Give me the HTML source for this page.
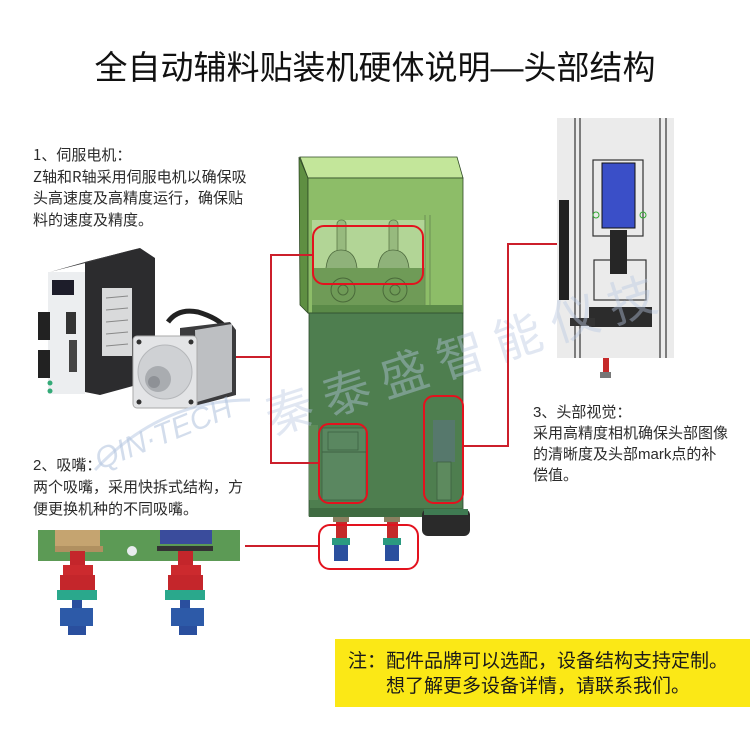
<!DOCTYPE html>
<html><head><meta charset="utf-8">
<style>
html,body{margin:0;padding:0;background:#fff;}
body{width:750px;height:756px;position:relative;overflow:hidden;font-family:"Liberation Sans","Noto Sans CJK SC",sans-serif;}
.t{position:absolute;color:#2b2b2b;font-size:15px;white-space:nowrap;}
#title{position:absolute;left:0;top:47px;width:750px;text-align:center;font-size:33px;line-height:42px;color:#111;white-space:nowrap;}
#note{position:absolute;left:335px;top:639px;width:415px;height:68px;background:#fbe816;}
#note div{position:absolute;left:13px;font-size:19px;line-height:25px;color:#1a1a1a;white-space:nowrap;}
svg{position:absolute;left:0;top:0;}
</style></head><body>
<svg width="750" height="756" viewBox="0 0 750 756">
  <!-- servo drive -->
  <polygon points="85,262 140,248 155,258 155,380 100,395 85,392" fill="#2c2c2e"/>
  <polygon points="50,272 85,262 140,248 105,258" fill="#3a3a3c"/>
  <rect x="48" y="272" width="37" height="122" fill="#eceef0"/>
  <rect x="52" y="280" width="22" height="15" fill="#1d1d2a"/>
  <rect x="38" y="312" width="12" height="28" fill="#222"/>
  <rect x="38" y="350" width="12" height="28" fill="#222"/>
  <rect x="66" y="312" width="10" height="22" fill="#333"/>
  <rect x="69" y="340" width="8" height="32" fill="#444"/>
  <circle cx="50" cy="383" r="2.5" fill="#3a7"/><circle cx="50" cy="391" r="2.5" fill="#3a7"/>
  <rect x="102" y="288" width="30" height="68" fill="#d9dadb"/>
  <g stroke="#888" stroke-width="1"><line x1="106" y1="298" x2="128" y2="296"/><line x1="106" y1="310" x2="128" y2="308"/><line x1="106" y1="322" x2="128" y2="320"/><line x1="106" y1="334" x2="128" y2="332"/><line x1="106" y1="346" x2="128" y2="344"/></g>
  <!-- motor -->
  <path d="M168,322 q10,-14 30,-10 q20,6 28,16" fill="none" stroke="#222" stroke-width="5"/>
  <polygon points="180,328 230,322 236,330 236,395 195,406 180,400" fill="#3b3b3d"/>
  <polygon points="195,330 232,324 232,392 197,402" fill="#bdbfc2"/>
  <rect x="133" y="336" width="64" height="72" rx="4" fill="#e3e4e6" stroke="#aaa"/>
  <circle cx="165" cy="372" r="27" fill="#cfd1d4" stroke="#b5b7ba"/>
  <circle cx="158" cy="379" r="13" fill="#a9acb0"/>
  <circle cx="154" cy="382" r="6" fill="#8e9196"/>
  <circle cx="139" cy="342" r="2.5" fill="#333"/><circle cx="191" cy="342" r="2.5" fill="#333"/><circle cx="139" cy="402" r="2.5" fill="#333"/><circle cx="191" cy="402" r="2.5" fill="#333"/>

  <!-- watermark logo -->
  <path d="M95,470 Q160,400 250,400" fill="none" stroke="#c9d6ea" stroke-width="3" opacity="0.7"/>
  <text x="100" y="470" transform="rotate(-22 100 470)" font-family="Liberation Sans, sans-serif" font-style="italic" font-size="30" fill="#b6c7e0" opacity="0.6">QIN·TECH</text>

  <!-- machine upper box -->
  <polygon points="299,157 308,178 308,313 300,305" fill="#5f8f42" stroke="#2f4a25" stroke-width="0.8"/>
  <polygon points="300,157 457,157 463,178 308,178" fill="#c3e69a" stroke="#2f4a25" stroke-width="0.8"/>
  <rect x="308" y="178" width="155" height="135" fill="#8dbd68" stroke="#2f4a25" stroke-width="0.8"/>
  <rect x="312" y="220" width="113" height="48" fill="#b2d596"/>
  <rect x="312" y="268" width="113" height="38" fill="#6f9b57"/>
  <rect x="337" y="220" width="9" height="36" rx="4" fill="#97ba7e" stroke="#5c7a48" stroke-width="0.8"/>
  <rect x="389" y="220" width="9" height="36" rx="4" fill="#97ba7e" stroke="#5c7a48" stroke-width="0.8"/>
  <path d="M326,268 q2,-18 15,-18 q14,0 16,18" fill="#8fb27a" stroke="#4e6a3e" stroke-width="0.8"/>
  <path d="M378,268 q2,-18 15,-18 q14,0 16,18" fill="#8fb27a" stroke="#4e6a3e" stroke-width="0.8"/>
  <circle cx="343" cy="290" r="12" fill="none" stroke="#4a6a3a"/><circle cx="343" cy="290" r="5" fill="none" stroke="#4a6a3a"/>
  <circle cx="395" cy="290" r="12" fill="none" stroke="#4a6a3a"/><circle cx="395" cy="290" r="5" fill="none" stroke="#4a6a3a"/>
  <rect x="312" y="305" width="151" height="8" fill="#5a8a48"/>
  <line x1="425" y1="215" x2="425" y2="305" stroke="#6a8f55"/>
  <line x1="430" y1="215" x2="430" y2="305" stroke="#6a8f55"/>
  <!-- machine lower box -->
  <rect x="309" y="313" width="154" height="203" fill="#4e7e4f" stroke="#2c4a2c" stroke-width="0.8"/>
  <rect x="309" y="425" width="9" height="75" fill="#5d8c58"/>
  <rect x="322" y="428" width="44" height="72" fill="#5a8760" stroke="#3e6242" stroke-width="0.8"/>
  <line x1="322" y1="452" x2="366" y2="452" stroke="#3e6242"/>
  <rect x="328" y="432" width="30" height="18" fill="none" stroke="#3e6242" stroke-width="0.8"/>
  <rect x="433" y="420" width="22" height="42" fill="#56786c"/>
  <rect x="437" y="462" width="14" height="38" fill="#5d8a5e" stroke="#3d5f40" stroke-width="0.8"/>
  <rect x="309" y="508" width="154" height="9" fill="#3f6b41"/>
  <!-- camera puck -->
  <rect x="422" y="509" width="48" height="27" rx="6" fill="#2a2a2a"/>
  <rect x="424" y="509" width="44" height="6" fill="#3f7a52"/>
  <!-- nozzles under machine -->
  <g>
    <rect x="333" y="517" width="16" height="5" fill="#8a8060"/>
    <rect x="336" y="522" width="11" height="18" fill="#c42a2a"/>
    <rect x="332" y="538" width="18" height="7" fill="#2a9a80"/>
    <rect x="334" y="545" width="14" height="16" fill="#2a4f9e"/>
    <rect x="384" y="517" width="16" height="5" fill="#8a8060"/>
    <rect x="387" y="522" width="11" height="18" fill="#c42a2a"/>
    <rect x="383" y="538" width="18" height="7" fill="#2a9a80"/>
    <rect x="385" y="545" width="14" height="16" fill="#2a4f9e"/>
  </g>

  <!-- right CAD image -->
  <rect x="557" y="118" width="117" height="240" fill="#ebebeb"/>
  <g stroke="#333" stroke-width="1.2" fill="none">
    <line x1="575" y1="118" x2="575" y2="358"/>
    <line x1="580" y1="118" x2="580" y2="358"/>
    <line x1="660" y1="118" x2="660" y2="358"/>
    <line x1="666" y1="118" x2="666" y2="358"/>
    <rect x="593" y="160" width="50" height="76"/>
    <rect x="594" y="260" width="52" height="40"/>
  </g>
  <rect x="559" y="200" width="10" height="100" fill="#222"/>
  <rect x="602" y="163" width="33" height="65" fill="#3a4fc8" stroke="#111"/>
  <rect x="610" y="230" width="17" height="44" fill="#262626"/>
  <rect x="589" y="307" width="63" height="20" fill="#2c2c2c"/>
  <rect x="570" y="318" width="25" height="8" fill="#333"/>
  <circle cx="596" cy="215" r="3" fill="none" stroke="#3a3"/>
  <circle cx="643" cy="215" r="3" fill="none" stroke="#3a3"/>
  <rect x="603" y="358" width="6" height="14" fill="#c62a2a"/>
  <rect x="600" y="372" width="11" height="6" fill="#777"/>

  <!-- bottom-left nozzle image -->
  <rect x="38" y="530" width="202" height="31" fill="#5c9a55"/>
  <rect x="55" y="530" width="45" height="18" fill="#c5a470"/>
  <rect x="55" y="546" width="48" height="6" fill="#b09060"/>
  <rect x="160" y="530" width="52" height="14" fill="#3a4c9c"/>
  <rect x="157" y="546" width="56" height="5" fill="#333"/>
  <circle cx="132" cy="551" r="5" fill="#e8ecee"/>
  <rect x="70" y="551" width="15" height="14" fill="#c4262b"/>
  <rect x="63" y="565" width="30" height="10" fill="#cc2a2e"/>
  <rect x="60" y="575" width="35" height="15" fill="#c4262b"/>
  <rect x="57" y="590" width="40" height="10" fill="#2aa88c"/>
  <rect x="72" y="600" width="10" height="8" fill="#2a4f9e"/>
  <rect x="60" y="608" width="33" height="18" fill="#2d5aa8"/>
  <rect x="68" y="626" width="18" height="9" fill="#2a4f9e"/>
  <rect x="178" y="551" width="15" height="14" fill="#c4262b"/>
  <rect x="171" y="565" width="30" height="10" fill="#cc2a2e"/>
  <rect x="168" y="575" width="35" height="15" fill="#c4262b"/>
  <rect x="165" y="590" width="40" height="10" fill="#2aa88c"/>
  <rect x="180" y="600" width="10" height="8" fill="#2a4f9e"/>
  <rect x="171" y="608" width="33" height="18" fill="#2d5aa8"/>
  <rect x="179" y="626" width="18" height="9" fill="#2a4f9e"/>

  <!-- watermark text -->
  <text x="272" y="435" transform="rotate(-18 272 435)" font-family="Noto Sans CJK SC, sans-serif" font-size="48" fill="#b8c8e2" opacity="0.42" letter-spacing="12">秦泰盛智能仪技</text>

  <!-- connector lines -->
  <g stroke="#cc1f2b" stroke-width="2" fill="none">
    <polyline points="313,255 271,255 271,463 319,463"/>
    <line x1="236" y1="357" x2="271" y2="357"/>
    <line x1="245" y1="546" x2="319" y2="546"/>
    <polyline points="557,244 508,244 508,446 463,446"/>
  </g>
  <g stroke="#e3121e" stroke-width="2" fill="none">
    <rect x="313" y="226" width="110" height="58" rx="11"/>
    <rect x="319" y="424" width="48" height="79" rx="10"/>
    <rect x="424" y="396" width="39" height="107" rx="10"/>
    <rect x="319" y="525" width="99" height="44" rx="11"/>
  </g>
</svg>

<div id="title">全自动辅料贴装机硬体说明—头部结构</div>

<div class="t" style="left:33px;top:144px;line-height:21.5px;font-family:'Noto Sans CJK SC',sans-serif;">1、伺服电机：<br>Z轴和R轴采用伺服电机以确保吸<br>头高速度及高精度运行，确保贴<br>料的速度及精度。</div>

<div class="t" style="left:33px;top:455px;line-height:22px;">2、吸嘴：<br>两个吸嘴，采用快拆式结构，方<br>便更换机种的不同吸嘴。</div>

<div class="t" style="left:533px;top:402px;line-height:21px;">3、头部视觉：<br>采用高精度相机确保头部图像<br>的清晰度及头部mark点的补<br>偿值。</div>

<div id="note">
  <div style="top:10px;">注：配件品牌可以选配，设备结构支持定制。</div>
  <div style="top:35px;left:51px;">想了解更多设备详情，请联系我们。</div>
</div>
</body></html>
